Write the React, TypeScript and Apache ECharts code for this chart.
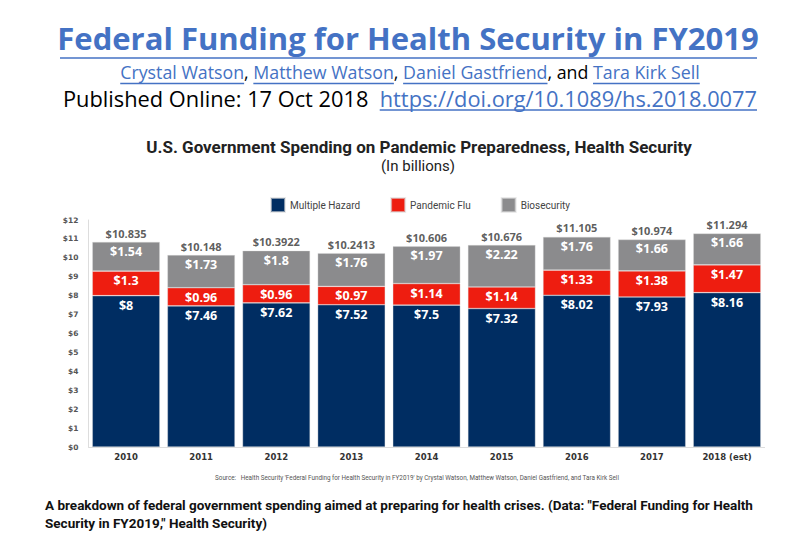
import React, { useEffect, useRef } from "react";
import * as echarts from "echarts";

const years = ["2010", "2011", "2012", "2013", "2014", "2015", "2016", "2017", "2018 (est)"];
const multipleHazard = [8, 7.46, 7.62, 7.52, 7.5, 7.32, 8.02, 7.93, 8.16];
const pandemicFlu = [1.3, 0.96, 0.96, 0.97, 1.14, 1.14, 1.33, 1.38, 1.47];
const biosecurity = [1.54, 1.73, 1.8, 1.76, 1.97, 2.22, 1.76, 1.66, 1.66];
const totals = [10.835, 10.148, 10.3922, 10.2413, 10.606, 10.676, 11.105, 10.974, 11.294];
const seriesNames = ["Multiple Hazard", "Pandemic Flu", "Biosecurity"];
const seriesColors = ["#002d62", "#ee1d10", "#8b8b8d"];

const authorPieces: [string, boolean][] = [
  ["Crystal Watson", true],
  [", ", false],
  ["Matthew Watson", true],
  [", ", false],
  ["Daniel Gastfriend", true],
  [", and ", false],
  ["Tara Kirk Sell", true],
];
const pubPieces: [string, boolean][] = [
  ["Published Online: 17 Oct 2018  ", false],
  ["https://doi.org/10.1089/hs.2018.0077", true],
];

const BLUE = "#4472c4";
const CAL = "'Open Sans', 'Noto Sans', sans-serif";
const ROB = "Roboto, 'Noto Sans', sans-serif";

export default function App() {
  const ref = useRef<HTMLDivElement>(null);
  useEffect(() => {
    if (!ref.current) return;
    const chart = echarts.init(ref.current, null, { renderer: "svg" });
    const ctx = document.createElement("canvas").getContext("2d") as CanvasRenderingContext2D;

    const segLabel = {
      show: true,
      position: "insideTop",
      distance: 3,
      color: "#ffffff",
      fontFamily: CAL,
      fontWeight: "bold",
      fontSize: 12.5,
      formatter: (p: any) => "$" + p.value,
    };
    const bar = (i: number, data: number[]) => ({
      name: seriesNames[i],
      type: "bar",
      stack: "total",
      data,
      barCategoryGap: "10%",
      itemStyle: { color: seriesColors[i], borderColor: "rgba(220,220,220,0.6)", borderWidth: 0.6 },
      label: segLabel,
    });
    const line = (x1: number, x2: number, y: number, color: string) => ({
      type: "line",
      shape: { x1, y1: y, x2, y2: y },
      style: { stroke: color, lineWidth: 1.3 },
    });
    const txt = (text: string, x: number, y: number, size: number, color: string, extra: any = {}) => ({
      type: "text",
      x,
      y,
      style: {
        text,
        fontSize: size,
        fontFamily: CAL,
        fill: color,
        verticalAlign: "middle",
        align: "left",
        ...extra,
      },
    });
    // A line made of blue underlined pieces and black plain pieces, centred on cx
    const richLine = (pieces: [string, boolean][], cx: number, y: number, size: number, ulY: number) => {
      ctx.font = `${size}px 'Open Sans'`;
      const widths = pieces.map((p) => ctx.measureText(p[0]).width);
      const total = widths.reduce((a, b) => a + b, 0);
      let x = cx - total / 2;
      const start = x;
      const lines: any[] = [];
      let text = "";
      pieces.forEach((p, i) => {
        text += `{${p[1] ? "u" : "k"}|${p[0]}}`;
        if (p[1]) lines.push(line(x, x + widths[i], ulY, BLUE));
        x += widths[i];
      });
      return [
        {
          type: "text",
          x: start,
          y,
          style: {
            text,
            fontSize: size,
            fontFamily: CAL,
            verticalAlign: "middle",
            align: "left",
            rich: {
              u: { fill: BLUE, fontSize: size, fontFamily: CAL, lineHeight: size * 1.1 },
              k: { fill: "#000", fontSize: size, fontFamily: CAL, lineHeight: size * 1.1 },
            },
          },
        },
        ...lines,
      ];
    };

    chart.setOption({
      animation: false,
      backgroundColor: "#ffffff",
      legend: {
        data: seriesNames,
        left: 265,
        top: 192,
        itemWidth: 14,
        itemHeight: 14,
        itemGap: 30,
        icon: "rect",
        textStyle: { fontSize: 10, color: "#444", fontFamily: ROB },
      },
      grid: { left: 88.5, right: 35.4, top: 220, bottom: 100 },
      xAxis: {
        type: "category",
        data: years,
        axisLine: { show: true, lineStyle: { color: "#dddddd" } },
        axisTick: { show: false },
        axisLabel: { color: "#333", fontWeight: "bold", fontSize: 8.5, fontFamily: "'DejaVu Sans', sans-serif", margin: 5 },
      },
      yAxis: {
        type: "value",
        min: 0,
        max: 12,
        interval: 1,
        axisLine: { show: true, lineStyle: { color: "#dddddd" } },
        axisTick: { show: false },
        splitLine: { show: false },
        axisLabel: {
          color: "#555",
          fontWeight: "bold",
          fontSize: 7.5,
          fontFamily: "'DejaVu Sans', sans-serif",
          formatter: (v: number) => "$" + v,
          margin: 10,
        },
      },
      series: [
        bar(0, multipleHazard),
        bar(1, pandemicFlu),
        bar(2, biosecurity),
        {
          name: "Total",
          type: "scatter",
          data: totals,
          symbolSize: 1,
          itemStyle: { color: "rgba(0,0,0,0)" },
          label: {
            show: true,
            position: "top",
            distance: 3,
            color: "#333",
            fontFamily: CAL,
            fontWeight: "bold",
            fontSize: 11,
            formatter: (p: any) => "$" + totals[p.dataIndex],
          },
          z: 5,
        },
      ],
      graphic: [
        txt("Federal Funding for Health Security in FY2019", 408, 38, 31, BLUE, { fontWeight: "bold", align: "center" }),
        line(60, 757, 58, BLUE),
        ...richLine(authorPieces, 410, 72, 17.8, 83.5),
        ...richLine(pubPieces, 410, 98, 21.8, 110),
        txt("U.S. Government Spending on Pandemic Preparedness, Health Security", 419, 147, 17, "#222", { fontFamily: ROB, fontWeight: "bold", align: "center" }),
        txt("(In billions)", 418, 166, 15, "#222", { fontFamily: ROB, align: "center" }),
        txt(
          "Source:   Health Security 'Federal Funding for Health Security in FY2019' by Crystal Watson, Matthew Watson, Daniel Gastfriend, and Tara Kirk Sell",
          417,
          478,
          6.3,
          "#555",
          { fontFamily: ROB, align: "center" }
        ),
        txt(
          "A breakdown of federal government spending aimed at preparing for health crises. (Data: \"Federal Funding for Health",
          45,
          505,
          13.5,
          "#111",
          { fontFamily: ROB, fontWeight: "bold" }
        ),
        txt("Security in FY2019,\" Health Security)", 45, 523, 13.5, "#111", { fontFamily: ROB, fontWeight: "bold" }),
      ],
    });
    return () => chart.dispose();
  }, []);
  return <div ref={ref} style={{ position: "absolute", left: 0, top: 0, width: 800, height: 547 }} />;
}
